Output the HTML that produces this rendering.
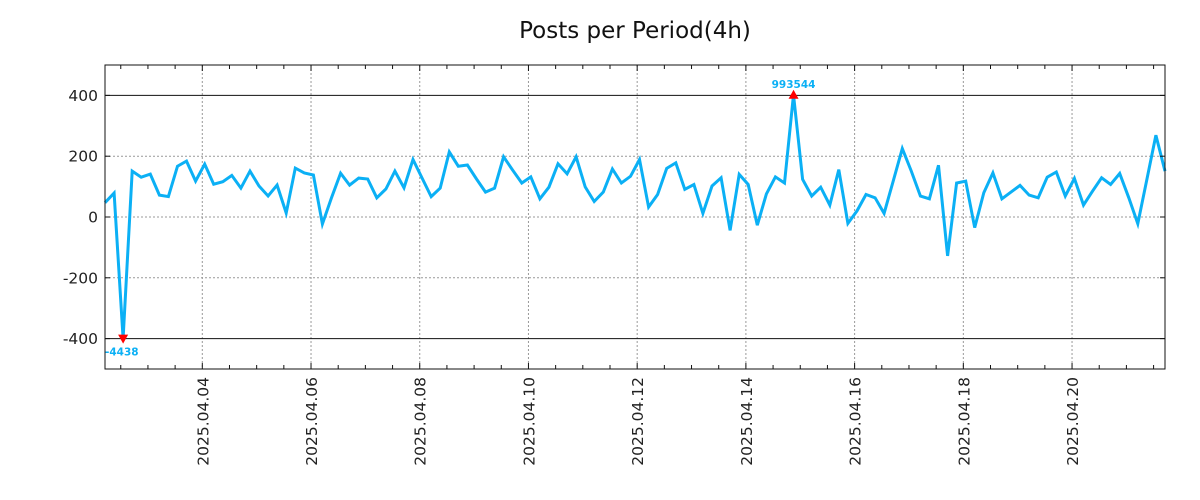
<!DOCTYPE html>
<html><head><meta charset="utf-8"><style>
body{margin:0;background:#fff;}
svg{display:block;font-family:"DejaVu Sans","Liberation Sans",sans-serif;}
</style></head><body>
<svg id="chart" width="1200" height="500">
<text x="635" y="38" text-anchor="middle" font-size="23" fill="#111">Posts per Period(4h)</text>
<g id="grid"></g><g id="series"></g><g id="axes"></g><g id="ann"></g>
</svg>
<script>
const values = [47,79,-400,151,131,141,72,67,167,184,118,174,108,116,137,95,151,102,69,105,13,161,145,138,-23,63,144,105,128,125,63,92,151,96,189,128,67,95,214,167,
171,125,82,95,198,154,112,132,60,98,175,142,198,99,51,82,158,112,134,189,33,74,160,178,91,107,12,102,129,-44,140,107,-27,76,132,112,402,124,
69,98,39,156,-21,20,74,63,12,118,225,151,69,60,170,-128,112,118,-35,80,145,60,82,104,72,63,131,148,69,127,39,85,129,107,143,63,-22,124,269,151];
const yTicks = [400,200,0,-200,-400];
const xTickDays = [4,6,8,10,12,14,16,18,20];
const xTickLabels = ["2025.04.04","2025.04.06","2025.04.08","2025.04.10","2025.04.12","2025.04.14","2025.04.16","2025.04.18","2025.04.20"];
const maxLabel = "993544";
const minLabel = "-4438";
const startDay = 2.21, stepDay = 1/6;

const L=105,R=1165,T=65,B=369;
const yMin=-500,yMax=500;
const endDay = startDay + (values.length-1)*stepDay;
const X=d=>L+(d-startDay)/(endDay-startDay)*(R-L);
const Y=v=>B-(v-yMin)/(yMax-yMin)*(B-T);
const NS="http://www.w3.org/2000/svg";
function mk(tag,attrs,parent){const e=document.createElementNS(NS,tag);for(const k in attrs)e.setAttribute(k,attrs[k]);document.getElementById(parent).appendChild(e);return e;}

xTickDays.forEach(d=>{
  const g=mk('line',{x1:X(d),x2:X(d),y1:T,y2:B,stroke:'#999','stroke-dasharray':'2,2'},'grid');
  
  
});
yTicks.forEach(v=>{
  const solid=Math.abs(v)===400;
  const g=mk('line',{x1:L,x2:R,y1:Y(v),y2:Y(v),stroke:solid?'#111':'#999','stroke-dasharray':solid?'none':'2,2'},'grid');
  
  
});
const pts=values.map((v,i)=>X(startDay+i*stepDay).toFixed(1)+','+Y(v).toFixed(1)).join(' ');
const line=mk('polyline',{points:pts,fill:'none',stroke:'#0bb0f5','stroke-width':3,'stroke-linejoin':'miter'},'series');


const fr=mk('rect',{x:L,y:T,width:R-L,height:B-T,fill:'none',stroke:'#111','stroke-width':1},'axes');


yTicks.forEach(v=>{
  mk('line',{x1:L,x2:L+5,y1:Y(v),y2:Y(v),stroke:'#111'},'axes');
  mk('line',{x1:R-5,x2:R,y1:Y(v),y2:Y(v),stroke:'#111'},'axes');
  const t=mk('text',{x:L-7,y:Y(v)+5.5,'text-anchor':'end','font-size':15.5,fill:'#222'},'axes');
  t.textContent=v;
  
  
});
for(let d=Math.ceil(startDay*2)/2; d<=endDay; d+=0.5){
  const major=Number.isInteger(d)&&d%2===0;
  const len=major?6:4;
  mk('line',{x1:X(d),x2:X(d),y1:B-len,y2:B,stroke:'#111'},'axes');
  mk('line',{x1:X(d),x2:X(d),y1:T,y2:T+len,stroke:'#111'},'axes');
}
xTickDays.forEach((d,i)=>{
  const x=X(d);
  const t=mk('text',{x:0,y:0,transform:`translate(${x+6},377) rotate(-90)`,'text-anchor':'end','font-size':15.5,fill:'#222'},'axes');
  t.textContent=xTickLabels[i];
  
  
});
let mi=0,ma=0;values.forEach((v,i)=>{if(v>values[ma])ma=i;if(v<values[mi])mi=i;});
const mx=X(startDay+ma*stepDay),my=Y(values[ma]);
const up=mk('polygon',{points:`${mx-5},${my+4} ${mx+5},${my+4} ${mx},${my-5}`,fill:'#f00'},'ann');


const tm=mk('text',{x:mx,y:my-7,'text-anchor':'middle','font-size':10.5,'font-weight':'bold',fill:'#0bb0f5'},'ann');
tm.textContent=maxLabel;


const nx=X(startDay+mi*stepDay),ny=Y(values[mi]);
const dn=mk('polygon',{points:`${nx-5},${ny-4} ${nx+5},${ny-4} ${nx},${ny+5}`,fill:'#f00'},'ann');


const tn=mk('text',{x:L,y:ny+17,'font-size':10.5,'font-weight':'bold',fill:'#0bb0f5'},'ann');
tn.textContent=minLabel;


</script>
</body></html>
